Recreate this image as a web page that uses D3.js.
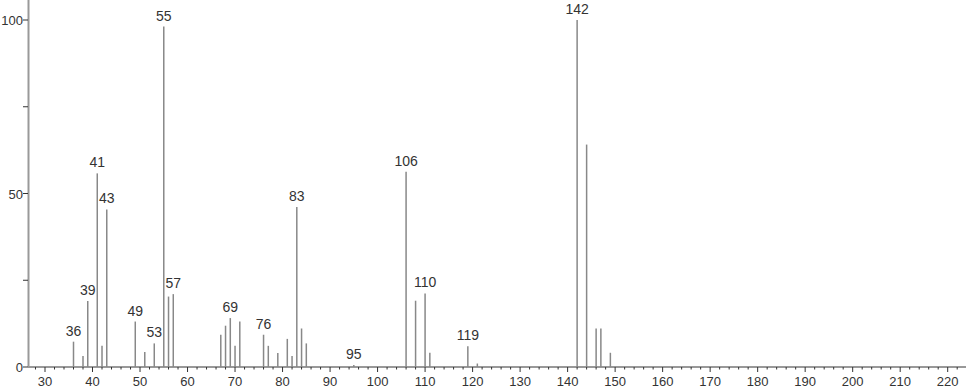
<!DOCTYPE html>
<html>
<head>
<meta charset="utf-8">
<script src="https://cdn.jsdelivr.net/npm/d3@7"></script>
<style>
  body { margin: 0; background: #fff; }
  svg { display: block; }
  text { font-family: "Liberation Sans", Arial, sans-serif; fill: #333; }
</style>
</head>
<body>
<div id="chart"></div>
<script>
// m/z and relative intensity
const mzValues = [36, 38, 39, 41, 42, 43, 49, 51, 53, 55, 56, 57,
  67, 68, 69, 70, 71, 76, 77, 79, 81, 82, 83, 84, 85, 95,
  106, 108, 110, 111, 119, 121, 142, 144, 146, 147, 149];
const intensities = [7.3, 3.2, 19.0, 55.8, 6.1, 45.4, 13.1, 4.3, 6.8, 98.1, 20.3, 21.0,
  9.3, 11.9, 14.1, 6.1, 13.1, 9.3, 6.1, 4.0, 8.1, 3.2, 46.1, 11.1, 6.8, 0.6,
  56.3, 19.1, 21.2, 4.1, 6.0, 1.0, 100, 64.1, 11.1, 11.1, 4.1];
const labelledPeaks = [36, 39, 41, 43, 49, 53, 55, 57, 69, 76, 83, 95, 106, 110, 119, 142];
const xTickLabels = [30, 40, 50, 60, 70, 80, 90, 100, 110, 120, 130, 140, 150,
  160, 170, 180, 190, 200, 210, 220];
const yTickLabels = [0, 50, 100];

const width = 966, height = 389;
const x0 = 28, baseY = 367;

const peaks = mzValues.map((mz, i) => ({ mz, val: intensities[i] }));

const svg = d3.select(`#chart`).append(`svg`)
  .attr(`width`, width).attr(`height`, height);

// 30 -> 45px, 220 -> 947.7px
const xScale = d3.scaleLinear().domain([30, 220]).range([45, 947.7]);
const yScale = d3.scaleLinear().domain([0, 100]).range([baseY, 20]);

// x axis
const xAxis = svg.append(`g`).attr(`transform`, `translate(0,${baseY})`);
xAxis.append(`line`)
  .attr(`x1`, x0).attr(`x2`, width)
  .attr(`stroke`, `#333`).attr(`stroke-width`, 1);
const minor = d3.range(28, 224, 2).filter((v) => v % 10 !== 0);
xAxis.selectAll(`.minor`).data(minor).enter().append(`line`)
  .attr(`x1`, (d) => xScale(d)).attr(`x2`, (d) => xScale(d))
  .attr(`y1`, 0).attr(`y2`, 2.5)
  .attr(`stroke`, `#333`).attr(`stroke-width`, 1);
xAxis.selectAll(`.major`).data(xTickLabels).enter().append(`line`)
  .attr(`x1`, (d) => xScale(d)).attr(`x2`, (d) => xScale(d))
  .attr(`y1`, 0).attr(`y2`, 5)
  .attr(`stroke`, `#333`).attr(`stroke-width`, 1);
xAxis.selectAll(`text`).data(xTickLabels).enter().append(`text`)
  .attr(`x`, (d) => xScale(d)).attr(`y`, 19)
  .attr(`text-anchor`, `middle`)
  .style(`font-size`, `13px`)
  .text((d) => d);

// y axis
const yAxis = svg.append(`g`);
yAxis.append(`line`)
  .attr(`x1`, x0 + 0.5).attr(`x2`, x0 + 0.5)
  .attr(`y1`, 0).attr(`y2`, baseY)
  .attr(`stroke`, `#999`).attr(`stroke-width`, 2);
yAxis.selectAll(`.ytick`).data([0, 25, 50, 75, 100]).enter().append(`line`)
  .attr(`x1`, x0 - 5).attr(`x2`, x0)
  .attr(`y1`, (d) => yScale(d)).attr(`y2`, (d) => yScale(d))
  .attr(`stroke`, `#333`).attr(`stroke-width`, 1);
yAxis.selectAll(`text`).data(yTickLabels).enter().append(`text`)
  .attr(`x`, x0 - 5).attr(`y`, (d) => yScale(d) + 5)
  .attr(`text-anchor`, `end`)
  .style(`font-size`, `13px`)
  .text((d) => d);

// peaks
svg.append(`g`).selectAll(`line`).data(peaks).enter().append(`line`)
  .attr(`x1`, (d) => xScale(d.mz)).attr(`x2`, (d) => xScale(d.mz))
  .attr(`y1`, baseY).attr(`y2`, (d) => yScale(d.val))
  .attr(`stroke`, `#888`).attr(`stroke-width`, 1.5);

// peak labels
svg.append(`g`).selectAll(`text`)
  .data(peaks.filter((d) => labelledPeaks.includes(d.mz)))
  .enter().append(`text`)
  .attr(`x`, (d) => xScale(d.mz))
  .attr(`y`, (d) => yScale(d.val) - 6)
  .attr(`text-anchor`, `middle`)
  .style(`font-size`, `14px`)
  .text((d) => d.mz);
</script>
</body>
</html>
